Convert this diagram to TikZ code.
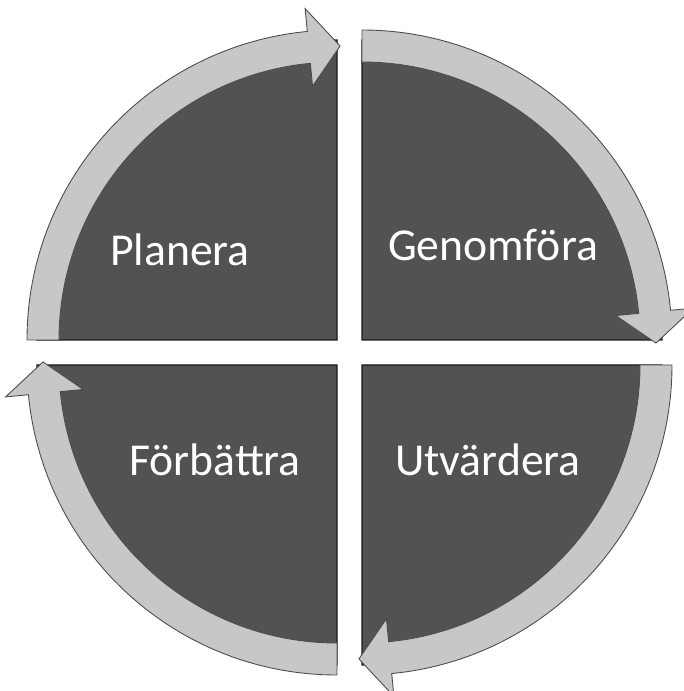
\documentclass[tikz,border=0pt]{standalone}
\usepackage{fontspec}
\setmainfont{Carlito}
\usepackage{xcolor}
\usepackage{tikz}
\usetikzlibrary{calc}

\begin{document}
\begin{tikzpicture}[
  x=0.02cm, y=0.02cm,
  sector/.style={fill=black!68, draw=black!90, line width=0.6pt},
  band/.style={fill=black!22, draw=black!70, line width=0.5pt, line join=miter},
  lbl/.style={font=\fontsize{26}{30}\selectfont, text=white, inner sep=0pt},
]
\useasboundingbox (0,0) rectangle (684,691);
% dark quarter discs, one per corner
\foreach \cx/\cy/\s in {337/351/180, 362/351/90, 362/326/0, 337/326/-90}{
  \pgfmathsetmacro{\e}{\s-90}
  \begin{scope}[shift={(\cx,\cy)}]
    \fill[sector] (0,0) -- (\s:300) arc[start angle=\s, end angle=\e, radius=300] -- cycle;
  \end{scope}
}
% light curved arrows on the rim (clockwise)
\foreach \cx/\cy/\s in {337/351/180, 362/351/90, 362/326/0, 337/326/-90}{
  \pgfmathsetmacro{\e}{\s-90}
  \pgfmathsetmacro{\b}{\e+5.5}
  \pgfmathsetmacro{\t}{\e-0.6}
  \begin{scope}[shift={(\cx,\cy)}]
    \filldraw[band] (\s:278) arc[start angle=\s, end angle=\b, radius=278]
      -- (\b:255) -- (\t:294) -- (\b:333) -- (\b:310)
      arc[start angle=\b, end angle=\s, radius=310] -- cycle;
  \end{scope}
}
% labels
\node[lbl] (planera) at (180,441) {Planera};
\node[lbl] (genomfora) at (493,446) {Genomföra};
\node[lbl] (forbattra) at (215,231) {Förbättra};
\node[lbl] (utvardera) at (488,231) {Utvärdera};
\end{tikzpicture}
\end{document}
